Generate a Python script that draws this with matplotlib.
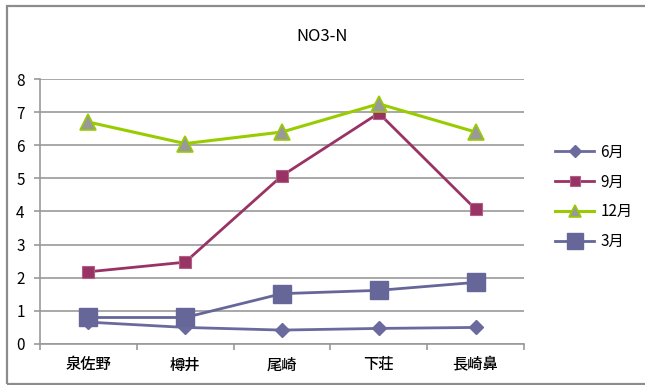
import matplotlib
matplotlib.use("Agg")
import matplotlib.pyplot as plt
from matplotlib.patches import Rectangle
import numpy as np

plt.rcParams['font.family'] = ['Noto Sans CJK JP', 'DejaVu Sans']

# NO3-N by site and month
sites = ['泉佐野', '樽井', '尾崎', '下荘', '長崎鼻']
months = ['6月', '9月', '12月', '3月']
jun = [0.66, 0.50, 0.42, 0.47, 0.50]
sep = [2.18, 2.47, 5.08, 6.97, 4.07]
dec = [6.70, 6.05, 6.40, 7.25, 6.40]
mar = [0.80, 0.80, 1.52, 1.62, 1.86]

fig = plt.figure(figsize=(6.45, 3.85), dpi=100)
ax = fig.add_axes([0.062, 0.1065, 0.7504, 0.6883])

# chart frame
fig.patches.append(Rectangle((7 / 645, 1.5 / 385), 1.0, 377.5 / 385,
                             transform=fig.transFigure, fill=False,
                             edgecolor='#8c8c8c', linewidth=1.6, zorder=0))

x = np.arange(len(sites))
ax.plot(x, jun, color='#6a6a9e', lw=2, marker='D', ms=7,
        mfc='#6a6a9e', mec='#6a6a9e', label=months[0], zorder=4)
ax.plot(x, sep, color='#993366', lw=2, marker='s', ms=9,
        mfc='#993366', mec='#b06080', mew=0.8, label=months[1], zorder=3)
ax.plot(x, dec, color='#99cc00', lw=2.2, marker='^', ms=11,
        mfc='#999999', mec='#99cc00', mew=1.2, label=months[2], zorder=5)
ax.plot(x, mar, color='#666699', lw=2, marker='s', ms=13,
        mfc='#666699', mec='#666699', label=months[3], zorder=4)

ax.set_xlim(-0.5, len(sites) - 0.5)
ax.set_ylim(0, 8)
ax.set_yticks(range(0, 9))
ax.set_xticks(x)
ax.set_xticklabels(sites, fontweight='medium')
ax.set_xticks(np.arange(-0.5, len(sites)), minor=True)
ax.tick_params(axis='x', which='major', length=0, pad=9, labelsize=11)
ax.tick_params(axis='x', which='minor', length=4, color='#999999', width=1.2)
ax.tick_params(axis='y', length=4, color='#999999', width=1.2, pad=7, labelsize=11)

ax.grid(axis='y', color='#999999', lw=1.2)
ax.set_axisbelow(True)
for side in ['top', 'right']:
    ax.spines[side].set_visible(False)
for side in ['left', 'bottom']:
    ax.spines[side].set_color('#999999')
    ax.spines[side].set_linewidth(1.2)

fig.text(0.5, 0.905, 'NO3-N', ha='center', va='center', fontsize=12)

ax.legend(loc='center left', bbox_to_anchor=(1.035, 0.555), frameon=False,
          prop={'size': 11}, handlelength=2.6, labelspacing=0.85,
          handletextpad=0.4, markerscale=0.85)

fig.savefig('out.png', dpi=100)
